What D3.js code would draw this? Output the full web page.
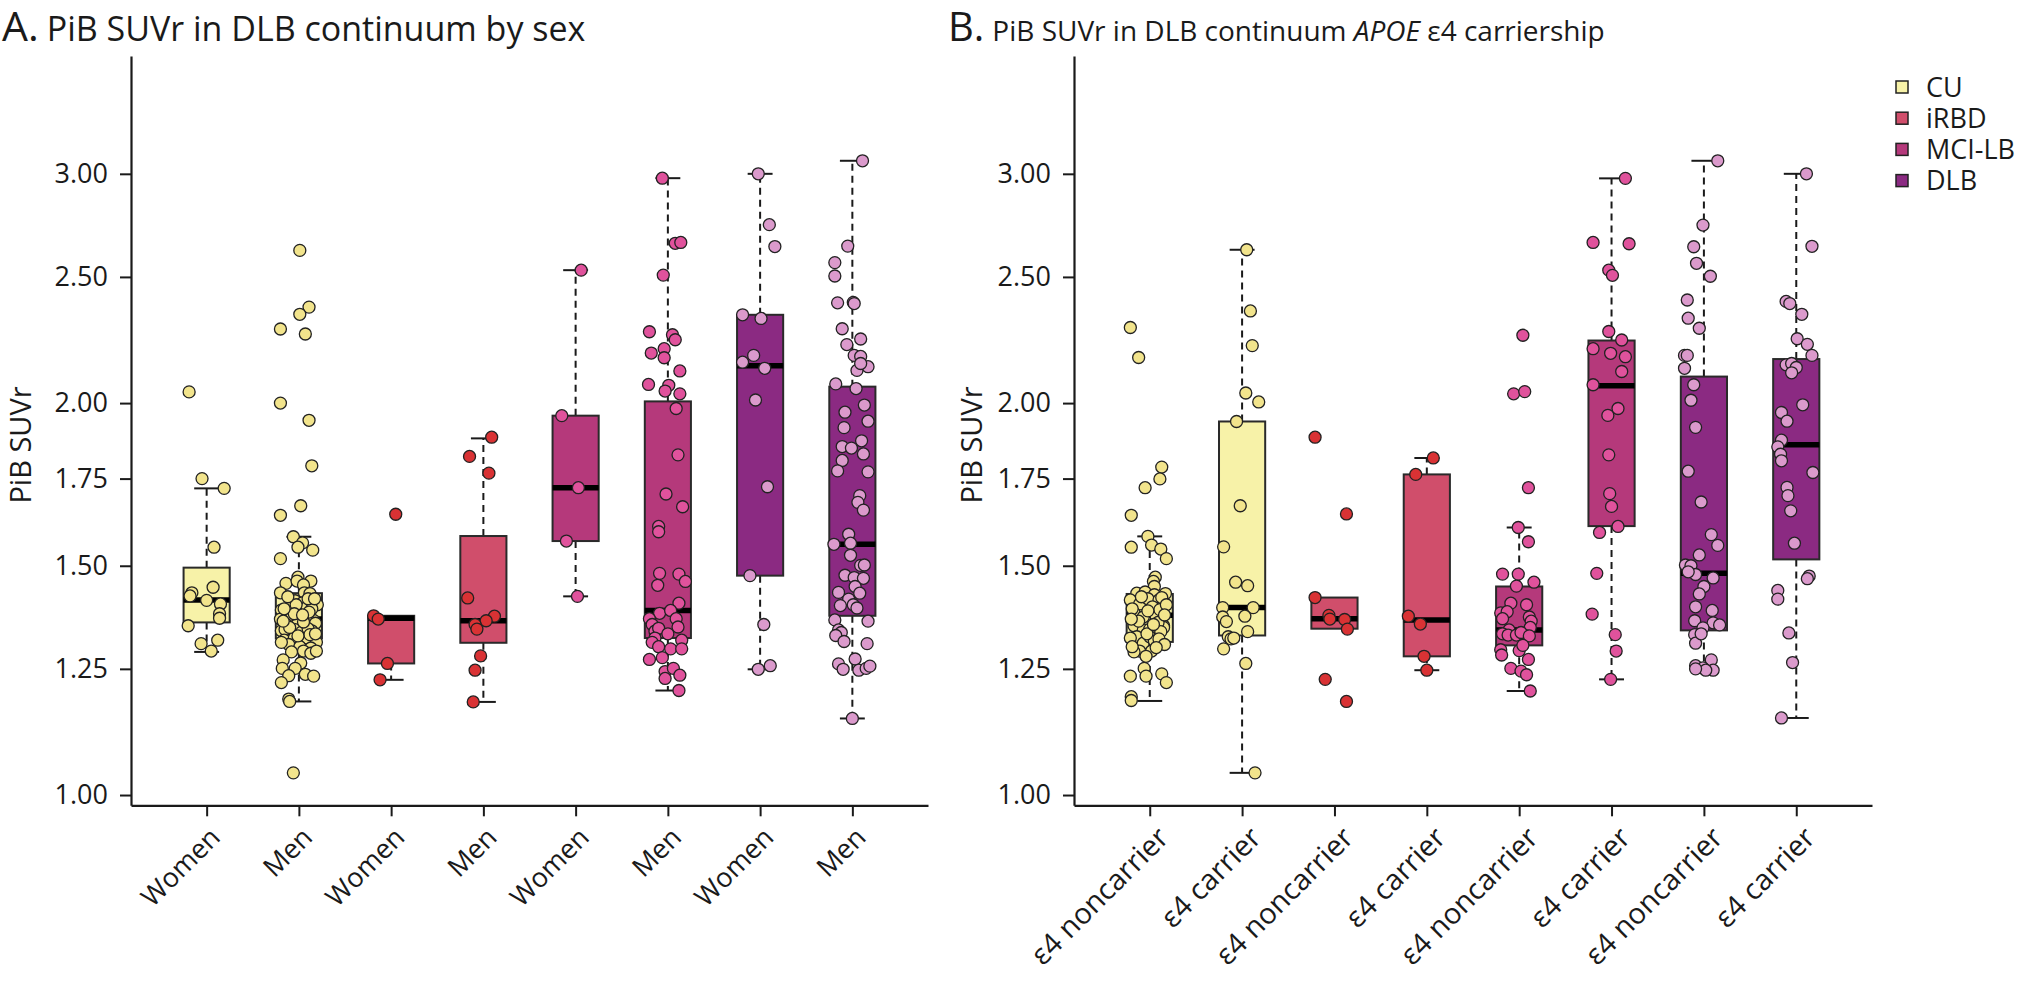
<!DOCTYPE html>
<html><head><meta charset="utf-8">
<script src="https://cdn.jsdelivr.net/npm/d3@7"></script>
<style>body{margin:0;background:#fff}svg{display:block}</style>
</head><body><svg id="chart" width="2022" height="982"></svg>
<script>
// ---------------- DATA ----------------
const groups = ["CU","CU","iRBD","iRBD","MCI-LB","MCI-LB","DLB","DLB"];
const labelsA = ["Women","Men","Women","Men","Women","Men","Women","Men"];
const labelsB = ["ε4 noncarrier","ε4 carrier","ε4 noncarrier","ε4 carrier","ε4 noncarrier","ε4 carrier","ε4 noncarrier","ε4 carrier"];
const yTicks = [1.00,1.25,1.50,1.75,2.00,2.50,3.00];
const legendLabels = ["CU","iRBD","MCI-LB","DLB"];

// box stats: [lower whisker, Q1, median, Q3, upper whisker]
const boxA = [
  [1.288,1.357,1.412,1.495,1.720],
  [1.180,1.319,1.365,1.429,1.579],
  [1.226,1.262,1.367,1.373,1.373],
  [1.179,1.309,1.361,1.581,1.879],
  [1.421,1.567,1.722,1.956,2.530],
  [1.203,1.320,1.386,2.006,2.977],
  [1.249,1.474,2.137,2.338,3.000],
  [1.145,1.373,1.558,2.059,3.070]
];
const boxB = [
  [1.181,1.311,1.374,1.427,1.580],
  [1.040,1.326,1.393,1.936,2.623],
  [1.342,1.342,1.366,1.418,1.418],
  [1.247,1.278,1.363,1.763,1.815],
  [1.202,1.303,1.339,1.446,1.605],
  [1.227,1.609,2.062,2.234,2.976],
  [1.247,1.338,1.480,2.096,3.070],
  [1.146,1.517,1.858,2.162,3.000]
];

// points: [PiB SUVr, horizontal jitter (fraction of category step)]
const cuWomen = [[2.04,-0.19],[1.75,-0.05],[1.72,0.19],[1.55,0.08],[1.444,0.07],[1.43,-0.16],[1.422,-0.18],[1.411,0.0],[1.402,0.15],[1.378,0.14],[1.367,0.14],[1.349,-0.2],[1.315,0.12],[1.307,-0.06],[1.29,0.05]];
const cuMen = [[2.62,0.01],[2.37,0.11],[2.34,0.01],[2.28,-0.2],[2.26,0.07],[2.0,-0.2],[1.94,0.11],[1.79,0.14],[1.668,0.02],[1.64,-0.2],
  [1.579,-0.06],[1.562,0.04],[1.55,-0.01],[1.542,0.15],[1.519,-0.2],[1.47,-0.01],[1.46,0.13],[1.454,-0.14],[1.46,-0.02],[1.45,0.05],
  [1.43,-0.2],[1.43,0.06],[1.428,0.12],[1.41,-0.04],[1.405,0.04],[1.40,0.2],[1.387,-0.19],[1.395,-0.1],[1.385,0.0],[1.395,0.09],
  [1.39,0.14],[1.40,-0.03],[1.372,-0.15],[1.368,-0.08],[1.364,0.0],[1.368,0.07],[1.362,0.16],[1.365,-0.2],[1.351,-0.13],[1.352,-0.02],
  [1.349,0.09],[1.355,0.18],[1.339,-0.07],[1.337,-0.19],[1.34,-0.15],[1.34,-0.04],[1.334,0.03],[1.337,0.14],[1.342,0.1],[1.315,-0.16],
  [1.32,-0.05],[1.32,0.09],[1.31,0.19],[1.305,-0.11],[1.30,0.01],[1.297,0.13],[1.31,-0.19],[1.42,-0.12],[1.415,0.1],[1.378,-0.05],
  [1.382,0.11],[1.358,0.05],[1.345,-0.1],[1.328,0.12],[1.325,-0.01],[1.415,0.17],[1.39,-0.16],[1.36,-0.17],[1.33,0.18],[1.375,0.04],
  [1.288,-0.08],[1.29,0.05],[1.285,0.13],[1.29,0.19],[1.27,-0.17],[1.263,0.02],[1.251,-0.18],[1.251,-0.04],[1.235,-0.11],[1.238,0.07],
  [1.234,0.16],[1.22,-0.19],[1.185,-0.11],[1.18,-0.1],[1.04,-0.06]];
const irbdWomen = [[1.643,0.05],[1.373,-0.19],[1.365,-0.14],[1.262,-0.04],[1.226,-0.12]];
const irbdMen = [[1.883,0.09],[1.82,-0.15],[1.767,0.06],[1.417,-0.17],[1.372,0.12],[1.361,0.03],[1.352,-0.09],[1.341,-0.07],[1.279,-0.03],[1.247,-0.09],[1.179,-0.11]];
const mciWomen = [[2.53,0.06],[1.956,-0.15],[1.722,0.03],[1.567,-0.1],[1.421,0.02]];
const mciMen = [[2.977,-0.06],[2.653,0.08],[2.657,0.14],[2.508,-0.05],[2.269,-0.2],[2.257,0.05],[2.237,0.08],[2.202,-0.04],[2.185,-0.18],[2.167,-0.04],
  [2.117,0.13],[2.067,-0.21],[2.064,0.01],[2.043,-0.03],[2.033,0.13],[1.981,0.09],[1.825,0.11],[1.703,-0.02],[1.665,0.16],[1.608,-0.1],
  [1.593,-0.1],[1.48,-0.09],[1.478,0.12],[1.449,-0.11],[1.459,0.19],[1.404,0.12],[1.379,-0.09],[1.386,0.03],[1.366,-0.2],[1.352,-0.17],
  [1.336,-0.14],[1.343,-0.1],[1.366,0.09],[1.346,0.11],[1.33,0.0],[1.315,0.15],[1.32,-0.14],[1.31,-0.17],[1.30,-0.1],[1.295,0.03],
  [1.295,0.15],[1.271,-0.2],[1.275,-0.06],[1.244,-0.03],[1.251,0.06],[1.229,-0.03],[1.236,0.13],[1.203,0.12]];
const dlbWomen = [[3.0,-0.02],[2.742,0.1],[2.638,0.16],[2.338,-0.19],[2.323,0.01],[2.176,-0.07],[2.15,-0.19],[2.127,0.05],[2.011,-0.05],[1.725,0.08],[1.474,-0.11],[1.352,0.04],[1.249,-0.02],[1.257,0.11]];
const dlbMen = [[3.07,0.11],[2.64,-0.05],[2.564,-0.19],[2.504,-0.19],[2.388,-0.16],[2.39,0.01],[2.385,0.02],[2.281,-0.11],[2.24,0.09],[2.218,-0.06],
  [2.176,0.02],[2.172,0.09],[2.119,0.05],[2.133,0.17],[2.145,0.09],[2.069,-0.18],[2.052,0.04],[1.993,0.13],[1.968,-0.08],[1.937,0.17],
  [1.915,-0.09],[1.852,-0.11],[1.847,-0.01],[1.871,0.1],[1.807,-0.11],[1.828,0.12],[1.774,-0.16],[1.771,0.17],[1.698,0.08],[1.678,0.06],
  [1.655,0.12],[1.586,-0.04],[1.561,-0.02],[1.528,-0.02],[1.558,-0.2],[1.501,0.09],[1.502,0.13],[1.475,-0.08],[1.469,0.02],[1.467,0.12],
  [1.446,0.03],[1.429,0.08],[1.431,-0.15],[1.414,-0.04],[1.40,0.01],[1.392,0.05],[1.398,-0.13],[1.363,-0.19],[1.36,0.17],[1.339,-0.15],
  [1.333,-0.12],[1.326,-0.18],[1.312,-0.09],[1.307,0.16],[1.272,0.03],[1.261,-0.15],[1.249,-0.1],[1.247,0.07],[1.251,0.15],[1.256,0.19],[1.145,0.0]];

const cuNon = [[2.286,-0.21],[2.168,-0.12],[1.786,0.13],[1.749,0.11],[1.722,-0.05],[1.64,-0.2],[1.58,-0.02],[1.556,0.02],[1.55,-0.2],[1.545,0.12],
  [1.519,0.18],[1.47,0.06],[1.459,0.04],[1.446,0.05],[1.429,-0.14],[1.432,-0.05],[1.425,0.05],[1.428,0.17],[1.412,-0.21],[1.402,-0.11],
  [1.415,-0.02],[1.412,0.1],[1.405,0.15],[1.38,-0.17],[1.37,-0.07],[1.395,0.03],[1.37,0.07],[1.349,0.15],[1.345,0.15],[1.349,-0.17],
  [1.339,-0.07],[1.341,0.0],[1.323,-0.14],[1.308,-0.07],[1.323,0.0],[1.313,0.05],[1.32,-0.21],[1.29,0.02],[1.29,-0.11],[1.288,-0.17],
  [1.278,-0.04],[1.42,-0.09],[1.418,0.13],[1.39,-0.19],[1.388,0.11],[1.385,-0.02],[1.36,-0.12],[1.357,0.09],[1.335,0.12],[1.33,-0.03],
  [1.4,0.18],[1.375,0.16],[1.365,-0.2],[1.352,0.04],[1.318,0.1],[1.3,-0.19],[1.305,0.16],[1.298,0.07],
  [1.251,-0.06],[1.234,-0.21],[1.234,-0.04],[1.239,0.13],[1.22,0.18],[1.19,-0.2],[1.182,-0.2]];
const cuCar = [[2.623,0.05],[2.354,0.09],[2.214,0.11],[2.036,0.04],[2.004,0.18],[1.936,-0.06],[1.668,-0.02],[1.551,-0.2],[1.457,-0.07],[1.448,0.06],
  [1.393,-0.21],[1.393,0.12],[1.37,-0.21],[1.372,0.03],[1.359,-0.17],[1.335,0.06],[1.323,-0.15],[1.318,-0.12],[1.32,-0.09],[1.295,-0.2],[1.262,0.04],[1.04,0.14]];
const irbdNon = [[1.883,-0.21],[1.644,0.13],[1.418,-0.21],[1.374,-0.06],[1.365,-0.05],[1.364,0.11],[1.341,0.14],[1.227,-0.1],[1.18,0.13]];
const irbdCar = [[1.815,0.07],[1.763,-0.12],[1.372,-0.2],[1.353,-0.07],[1.278,-0.03],[1.247,0.0]];
const mciNon = [[2.255,0.04],[2.033,-0.06],[2.041,0.06],[1.722,0.1],[1.605,-0.01],[1.565,0.1],[1.478,-0.18],[1.478,-0.01],[1.457,0.16],[1.447,-0.03],
  [1.404,-0.09],[1.40,0.08],[1.38,-0.2],[1.383,-0.13],[1.366,-0.18],[1.37,0.11],[1.36,0.13],[1.345,0.12],[1.339,-0.11],[1.33,-0.18],
  [1.327,-0.12],[1.327,-0.03],[1.325,0.08],[1.333,0.02],[1.325,0.11],[1.293,-0.2],[1.291,0.0],[1.303,0.04],[1.281,-0.19],[1.271,0.1],
  [1.251,-0.09],[1.245,0.02],[1.237,0.08],[1.202,0.12]];
const mciCar = [[2.976,0.15],[2.657,-0.2],[2.651,0.19],[2.53,-0.03],[2.507,0.01],[2.27,-0.03],[2.236,0.11],[2.202,-0.2],[2.184,-0.01],[2.171,0.15],
  [2.115,0.11],[2.066,-0.2],[1.981,0.07],[1.957,-0.04],[1.825,-0.03],[1.704,-0.02],[1.666,0.0],[1.608,0.07],[1.591,-0.13],[1.48,-0.16],
  [1.377,-0.21],[1.328,0.04],[1.29,0.05],[1.227,-0.01]];
const dlbNon = [[3.07,0.15],[2.74,-0.01],[2.637,-0.11],[2.561,-0.08],[2.503,0.07],[2.40,-0.18],[2.324,-0.17],[2.283,-0.05],[2.176,-0.21],[2.176,-0.18],
  [2.127,-0.21],[2.066,-0.11],[2.01,-0.14],[1.916,-0.09],[1.773,-0.17],[1.679,-0.03],[1.585,0.08],[1.555,0.15],[1.529,-0.05],[1.502,-0.2],
  [1.50,-0.14],[1.477,-0.09],[1.484,-0.17],[1.468,0.1],[1.446,0.0],[1.427,-0.05],[1.395,-0.09],[1.386,0.09],[1.361,-0.1],[1.356,0.1],
  [1.351,0.17],[1.344,-0.01],[1.328,-0.1],[1.308,-0.09],[1.33,-0.03],[1.27,0.08],[1.257,-0.09],[1.252,-0.01],[1.247,0.1],[1.247,0.02],[1.25,-0.09]];
const dlbCar = [[3.0,0.11],[2.639,0.17],[2.394,-0.11],[2.385,-0.07],[2.34,0.06],[2.241,0.01],[2.219,0.12],[2.176,0.17],[2.14,-0.11],[2.145,-0.05],
  [2.13,0.0],[2.11,-0.05],[1.994,0.07],[1.967,-0.16],[1.937,-0.1],[1.873,-0.16],[1.851,-0.2],[1.827,-0.17],[1.806,-0.16],[1.769,0.18],
  [1.723,-0.1],[1.698,-0.09],[1.653,-0.06],[1.561,-0.02],[1.473,0.14],[1.466,0.12],[1.436,-0.2],[1.414,-0.2],[1.332,-0.08],[1.264,-0.04],[1.146,-0.16]];

const pointsA = [cuWomen,cuMen,irbdWomen,irbdMen,mciWomen,mciMen,dlbWomen,dlbMen];
const pointsB = [cuNon,cuCar,irbdNon,irbdCar,mciNon,mciCar,dlbNon,dlbCar];

// ---------------- STYLE ----------------
const boxFill = {"CU":"#F7F2A8","iRBD":"#D04E6B","MCI-LB":"#B5397B","DLB":"#8B2A82"};
const ptFill  = {"CU":"#F2E48C","iRBD":"#D93234","MCI-LB":"#E0529C","DLB":"#DB9ACC"};
const FONT = "'Open Sans', 'Noto Sans', sans-serif";
const INK = "#1a1a1a";

const svg = d3.select("#chart");
svg.append("rect").attr("width",2022).attr("height",982).attr("fill","#fff");

const y = d3.scaleLog().domain([0.982, 3.695]).range([805.3, 56]);

const panels = [
  {x0:131, x1:928, labels:labelsA, box:boxA, pts:pointsA, ylabX:31, xfs:27, xoff:[8,27]},
  {x0:1074, x1:1872, labels:labelsB, box:boxB, pts:pointsB, ylabX:982, xfs:29, xoff:[13,27]}
];

panels.forEach(p => {
  const x = d3.scaleLinear().domain([0.18, 8.82]).range([p.x0, p.x1]);
  const step = x(2) - x(1);
  const bw = step * 0.5;
  const cap = step * 0.27;
  const g = svg.append("g");

  p.box.forEach((b, i) => {
    const cx = x(i + 1);
    const grp = groups[i];
    const [lo, q1, med, q3, hi] = b;
    const gg = g.append("g");
    if (hi > q3) {
      gg.append("line").attr("x1",cx).attr("x2",cx).attr("y1",y(q3)).attr("y2",y(hi))
        .attr("stroke",INK).attr("stroke-width",2).attr("stroke-dasharray","7,5");
      gg.append("line").attr("x1",cx-cap/2).attr("x2",cx+cap/2).attr("y1",y(hi)).attr("y2",y(hi))
        .attr("stroke",INK).attr("stroke-width",2);
    }
    if (lo < q1) {
      gg.append("line").attr("x1",cx).attr("x2",cx).attr("y1",y(q1)).attr("y2",y(lo))
        .attr("stroke",INK).attr("stroke-width",2).attr("stroke-dasharray","7,5");
      gg.append("line").attr("x1",cx-cap/2).attr("x2",cx+cap/2).attr("y1",y(lo)).attr("y2",y(lo))
        .attr("stroke",INK).attr("stroke-width",2);
    }
    gg.append("rect").attr("x",cx-bw/2).attr("width",bw)
      .attr("y",y(q3)).attr("height",y(q1)-y(q3))
      .attr("fill",boxFill[grp]).attr("stroke","#2a2a2a").attr("stroke-width",2);
    gg.append("line").attr("x1",cx-bw/2).attr("x2",cx+bw/2).attr("y1",y(med)).attr("y2",y(med))
      .attr("stroke","#000").attr("stroke-width",5.5);
    gg.selectAll("circle").data(p.pts[i]).join("circle")
      .attr("cx", d => cx + d[1]*step)
      .attr("cy", d => y(d[0]))
      .attr("r", 6)
      .attr("fill", ptFill[grp])
      .attr("stroke", "#222").attr("stroke-width", 1.3);
  });

  const ya = svg.append("g").attr("transform",`translate(${p.x0},0)`)
    .call(d3.axisLeft(y).tickValues(yTicks).tickFormat(d3.format(".2f")).tickSize(11).tickSizeOuter(0).tickPadding(12));
  ya.select(".domain").attr("stroke",INK).attr("stroke-width",2.2);
  ya.selectAll(".tick line").attr("stroke",INK).attr("stroke-width",2);
  ya.selectAll(".tick text").attr("font-family",FONT).attr("font-size",27).attr("fill",INK);

  const xa = svg.append("g").attr("transform","translate(0,805.3)")
    .call(d3.axisBottom(x).tickValues(d3.range(1,9)).tickFormat(i => p.labels[i-1]).tickSize(11).tickSizeOuter(0));
  xa.select(".domain").attr("stroke",INK).attr("stroke-width",2.2);
  xa.selectAll(".tick line").attr("stroke",INK).attr("stroke-width",2);
  xa.selectAll(".tick text").attr("font-family",FONT).attr("font-size",p.xfs).attr("fill",INK)
    .attr("text-anchor","end").attr("x",0).attr("y",0).attr("dy","0.35em")
    .attr("transform",`translate(${p.xoff[0]},${p.xoff[1]}) rotate(-45)`);

  svg.append("text").attr("transform",`translate(${p.ylabX},445) rotate(-90)`)
    .attr("text-anchor","middle").attr("font-family",FONT).attr("font-size",29).attr("fill",INK)
    .text("PiB SUVr");
});

// titles
const tA = svg.append("text").attr("x",2).attr("y",41).attr("font-family",FONT).attr("fill",INK);
tA.append("tspan").attr("font-size",41).text("A.");
tA.append("tspan").attr("font-size",34).attr("dx",8).text("PiB SUVr in DLB continuum by sex");
const tB = svg.append("text").attr("x",948).attr("y",41).attr("font-family",FONT).attr("fill",INK);
tB.append("tspan").attr("font-size",40).text("B.");
tB.append("tspan").attr("font-size",28).attr("dx",8).text("PiB SUVr in DLB continuum ");
tB.append("tspan").attr("font-size",28).attr("font-style","italic").text("APOE");
tB.append("tspan").attr("font-size",28).text(" ε4 carriership");

// legend
const lg = svg.append("g").attr("transform","translate(1896,87)");
legendLabels.forEach((l, i) => {
  const row = lg.append("g").attr("transform",`translate(0,${i*31.2})`);
  row.append("rect").attr("x",0).attr("y",-6).attr("width",12).attr("height",12)
    .attr("fill",boxFill[l]).attr("stroke","#222").attr("stroke-width",1.5);
  row.append("text").attr("x",30).attr("y",0).attr("dy","0.36em")
    .attr("font-family",FONT).attr("font-size",27).attr("fill",INK).text(l);
});
</script>
</body></html>
